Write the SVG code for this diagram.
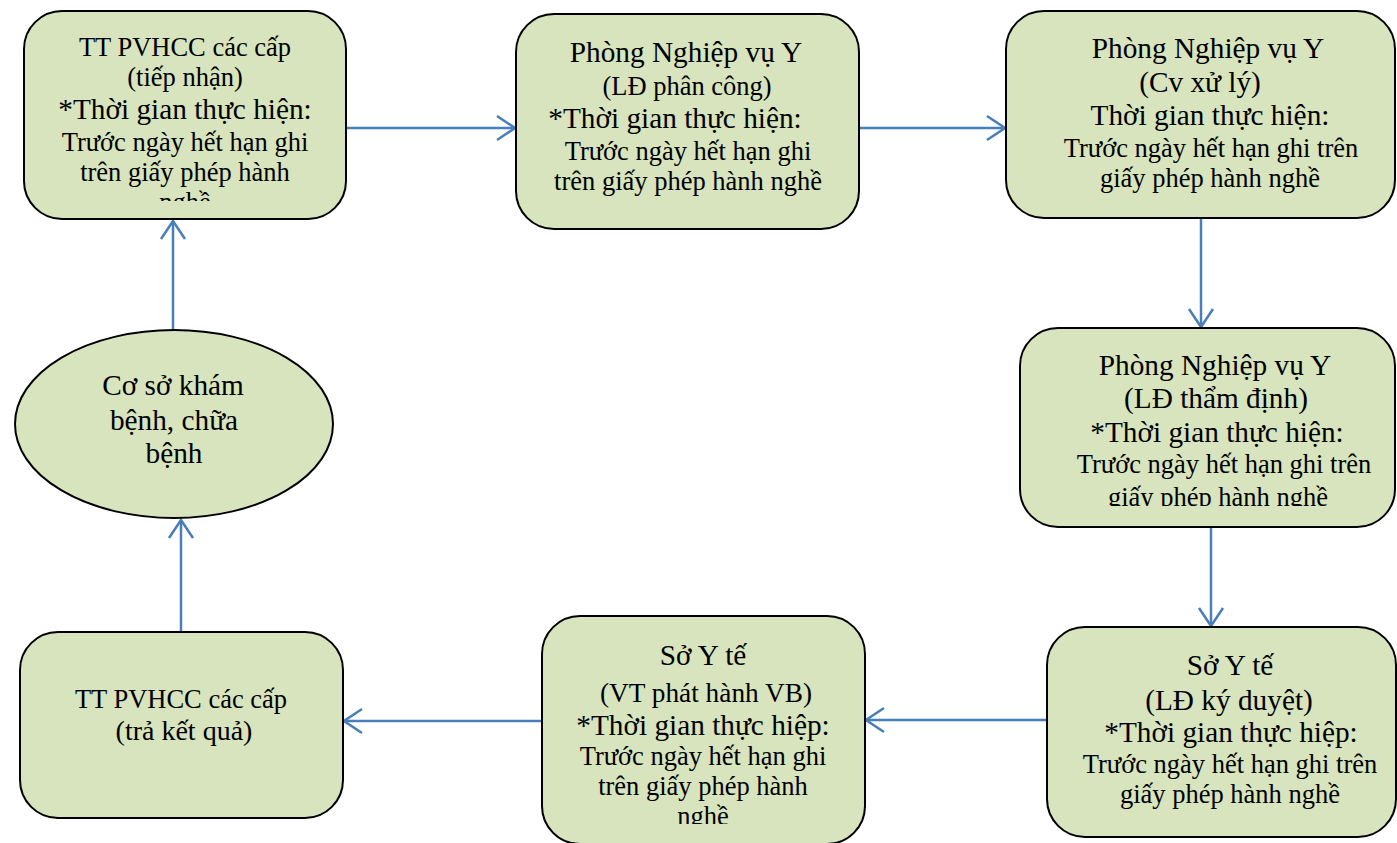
<svg xmlns="http://www.w3.org/2000/svg" width="1397" height="843" viewBox="0 0 1397 843">
<style>
.box{fill:#d7e4bd;stroke:#000;stroke-width:2}
.t{font-family:"Liberation Serif","Times New Roman",serif;fill:#000;text-anchor:middle}
.s{font-size:26.5px}
.b{font-size:29.3px}
.c{stroke:#4a7ebb;stroke-width:2.5;fill:none}
</style>
<defs>
<marker id="arr" markerUnits="userSpaceOnUse" viewBox="-22 -15 24 30" markerWidth="24" markerHeight="30" refX="0" refY="0" orient="auto">
<path d="M-18,-12 L0,0 L-18,12" fill="none" stroke="#4a7ebb" stroke-width="2.5"/>
</marker>
<clipPath id="c1"><rect x="24" y="11" width="322" height="190"/></clipPath>
<clipPath id="c4"><rect x="1020" y="328" width="377" height="178"/></clipPath>
<clipPath id="c6"><rect x="542" y="616" width="323" height="208"/></clipPath>
</defs>
<rect width="1397" height="843" fill="#fff"/>
<g id="connectors" class="c">
<line x1="346" y1="128" x2="515" y2="128" marker-end="url(#arr)"/>
<line x1="859" y1="128" x2="1005" y2="128" marker-end="url(#arr)"/>
<line x1="1201" y1="218" x2="1201" y2="327" marker-end="url(#arr)"/>
<line x1="1211" y1="527" x2="1211" y2="626" marker-end="url(#arr)"/>
<line x1="1047" y1="720" x2="866" y2="720" marker-end="url(#arr)"/>
<line x1="542" y1="721" x2="344" y2="721" marker-end="url(#arr)"/>
<line x1="181" y1="632" x2="181" y2="520" marker-end="url(#arr)"/>
<line x1="173" y1="330" x2="173" y2="221" marker-end="url(#arr)"/>
</g>
<g id="n1">
<rect class="box" x="24" y="11" width="322" height="208" rx="38"/>
<g class="t" clip-path="url(#c1)">
<text class="s" x="185" y="56">TT PVHCC các cấp</text>
<text class="s" x="185" y="86">(tiếp nhận)</text>
<text class="b" x="185" y="119">*Thời gian thực hiện:</text>
<text class="s" x="185" y="151">Trước ngày hết hạn ghi</text>
<text class="s" x="185" y="181">trên giấy phép hành</text>
<text class="s" x="185" y="211">nghề</text>
</g>
</g>
<g id="n2">
<rect class="box" x="516" y="14" width="343" height="215" rx="38"/>
<g class="t">
<text class="b" x="686" y="62">Phòng Nghiệp vụ Y</text>
<text class="s" x="687" y="95">(LĐ phân công)</text>
<text class="b" x="675" y="128">*Thời gian thực hiện:</text>
<text class="s" x="688" y="160">Trước ngày hết hạn ghi</text>
<text class="s" x="688" y="190">trên giấy phép hành nghề</text>
</g>
</g>
<g id="n3">
<rect class="box" x="1006" y="11" width="389" height="207" rx="38"/>
<g class="t">
<text class="b" x="1208" y="58">Phòng Nghiệp vụ Y</text>
<text class="b" x="1200" y="92">(Cv xử lý)</text>
<text class="b" x="1210" y="125">Thời gian thực hiện:</text>
<text class="s" x="1211" y="157">Trước ngày hết hạn ghi trên</text>
<text class="s" x="1210" y="187">giấy phép hành nghề</text>
</g>
</g>
<g id="n4">
<rect class="box" x="1020" y="328" width="375" height="199" rx="38"/>
<g class="t" clip-path="url(#c4)">
<text class="b" x="1215" y="375">Phòng Nghiệp vụ Y</text>
<text class="b" x="1216" y="408">(LĐ thẩm định)</text>
<text class="b" x="1217" y="442">*Thời gian thực hiện:</text>
<text class="s" x="1224" y="473">Trước ngày hết hạn ghi trên</text>
<text class="s" x="1218" y="506">giấy phép hành nghề</text>
</g>
</g>
<g id="n5">
<rect class="box" x="1047" y="627" width="349" height="210" rx="38"/>
<g class="t">
<text class="b" x="1230" y="675">Sở Y tế</text>
<text class="b" x="1229" y="710">(LĐ ký duyệt)</text>
<text class="b" x="1231" y="742">*Thời gian thực hiệp:</text>
<text class="s" x="1230" y="773">Trước ngày hết hạn ghi trên</text>
<text class="s" x="1230" y="803">giấy phép hành nghề</text>
</g>
</g>
<g id="n6">
<rect class="box" x="542" y="616" width="323" height="228" rx="38"/>
<g class="t" clip-path="url(#c6)">
<text class="b" x="703" y="665">Sở Y tế</text>
<text class="s" x="706" y="702" style="font-size:27.3px">(VT phát hành VB)</text>
<text class="b" x="703" y="735">*Thời gian thực hiệp:</text>
<text class="s" x="703" y="765">Trước ngày hết hạn ghi</text>
<text class="s" x="703" y="795">trên giấy phép hành</text>
<text class="s" x="703" y="825">nghề</text>
</g>
</g>
<g id="n7">
<rect class="box" x="20" y="632" width="323" height="186" rx="38"/>
<g class="t">
<text class="s" x="181" y="708">TT PVHCC các cấp</text>
<text class="b" x="184" y="740" style="font-size:28px">(trả kết quả)</text>
</g>
</g>
<g id="n8">
<ellipse class="box" cx="174" cy="424" rx="159" ry="94"/>
<g class="t">
<text class="b" x="173" y="395">Cơ sở khám</text>
<text class="b" x="174" y="430">bệnh, chữa</text>
<text class="b" x="174" y="463">bệnh</text>
</g>
</g>
</svg>
